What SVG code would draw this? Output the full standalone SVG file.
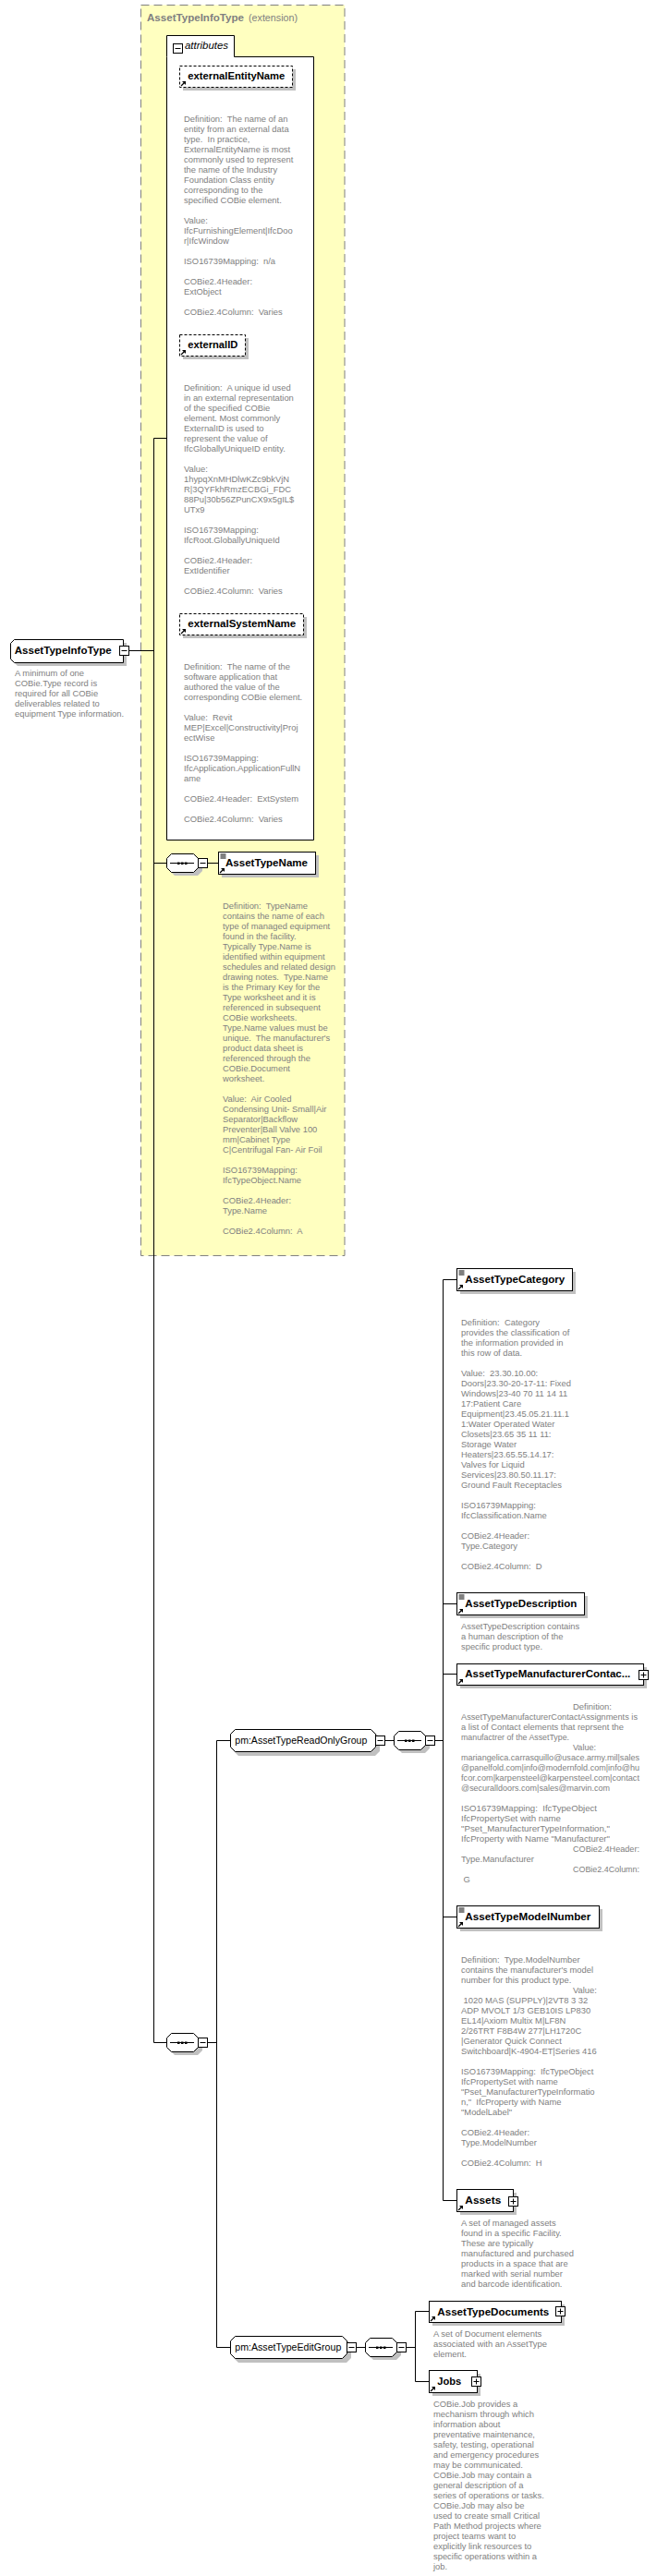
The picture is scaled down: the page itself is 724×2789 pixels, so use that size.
<svg xmlns="http://www.w3.org/2000/svg" xmlns:xlink="http://www.w3.org/1999/xlink" width="724" height="2789" viewBox="0 0 724 2789">
<style>
.d{font-family:"Liberation Sans",Arial,sans-serif;font-size:9.4px;fill:#808080;white-space:pre}
.n{font-family:"Liberation Sans",Arial,sans-serif;font-size:11.5px;font-weight:bold;fill:#000}
.g{font-family:"Liberation Sans",Arial,sans-serif;font-size:11px;fill:#000}
.box{fill:#fff;stroke:#000;stroke-width:1}
.sh{fill:#c0c0c0;stroke:none}
.ab{fill:#fff;stroke:#000;stroke-width:1;stroke-dasharray:3 2}
.ln{stroke:#000;stroke-width:1;fill:none}
</style>
<defs>
<g id="lnk"><path d="M1.5,-1.5 L5,-5" stroke="#000" stroke-width="1.3" fill="none"/><path d="M2.5,-6.5 L6.5,-6.5 L6.5,-2.5 Z" fill="#000"/></g>
<g id="sc"><path d="M2,2.5 H8 M2,4.5 H8 M2,6.5 H8" stroke="#000" stroke-width="1" fill="none"/></g>
<g id="minus"><rect x="0.5" y="0.5" width="10" height="10" class="box"/><path d="M2.5,5.5 H8.5" stroke="#000"/></g>
<g id="plus"><rect x="0.5" y="0.5" width="10" height="10" class="box"/><path d="M2.5,5.5 H8.5 M5.5,2.5 V8.5" stroke="#000"/></g>
<g id="seq">
<path d="M9,4 H34 L39,9 V19 L34,24 H9 L4,19 V9 Z" class="sh"/>
<path d="M5.5,0.5 H29.5 L34.5,5.5 V15.5 L29.5,20.5 H5.5 L0.5,15.5 V5.5 Z" class="box"/>
<path d="M4,10.5 H30" stroke="#000"/>
<rect x="12" y="9.5" width="2.5" height="2.5" fill="#000"/><rect x="16" y="9.5" width="2.5" height="2.5" fill="#000"/><rect x="20" y="9.5" width="2.5" height="2.5" fill="#000"/>
</g>
</defs>

<!-- complex type container -->
<g id="complexType">
<rect x="152.5" y="5.5" width="220.5" height="1354" fill="#ffffc0" stroke="#808080" stroke-dasharray="9 5"/>
<text x="159" y="23" style="font-family:'Liberation Sans',Arial,sans-serif;font-size:11.5px;fill:#808080"><tspan font-weight="bold" textLength="105" lengthAdjust="spacingAndGlyphs">AssetTypeInfoType</tspan></text>
<text x="269" y="23" style="font-family:'Liberation Sans',Arial,sans-serif;font-size:11.5px;fill:#808080" textLength="53" lengthAdjust="spacingAndGlyphs">(extension)</text>
</g>

<g id="attributes">
<path d="M180.5,61.5 V38.5 H253.5 V61.5 H339.5 V909.5 H180.5 Z" class="box"/>
<use xlink:href="#minus" x="187" y="47"/>
<text x="200" y="53" style="font-family:'Liberation Sans',Arial,sans-serif;font-size:11.5px;font-style:italic;fill:#000" textLength="47" lengthAdjust="spacingAndGlyphs">attributes</text>
</g>

<g id="externalEntityName">
<rect x="198" y="75" width="122" height="23" class="sh"/>
<rect x="194.5" y="71.5" width="122" height="23" class="ab"/>
<use xlink:href="#lnk" x="194.5" y="94.5"/>
<text class="n" x="203.3" y="86" textLength="105" lengthAdjust="spacingAndGlyphs">externalEntityName</text>
<text class="d">
<tspan x="199" y="132">Definition:  The name of an</tspan>
<tspan x="199" y="143">entity from an external data</tspan>
<tspan x="199" y="154">type.  In practice,</tspan>
<tspan x="199" y="165">ExternalEntityName is most</tspan>
<tspan x="199" y="176">commonly used to represent</tspan>
<tspan x="199" y="187">the name of the Industry</tspan>
<tspan x="199" y="198">Foundation Class entity</tspan>
<tspan x="199" y="209">corresponding to the</tspan>
<tspan x="199" y="220">specified COBie element.</tspan>
<tspan x="199" y="242">Value:</tspan>
<tspan x="199" y="253">IfcFurnishingElement|IfcDoo</tspan>
<tspan x="199" y="264">r|IfcWindow</tspan>
<tspan x="199" y="286">ISO16739Mapping:  n/a</tspan>
<tspan x="199" y="308">COBie2.4Header:</tspan>
<tspan x="199" y="319">ExtObject</tspan>
<tspan x="199" y="341">COBie2.4Column:  Varies</tspan>
</text>
</g>

<g id="externalID">
<rect x="198" y="366" width="71" height="23" class="sh"/>
<rect x="194.5" y="362.5" width="71" height="23" class="ab"/>
<use xlink:href="#lnk" x="194.5" y="385.5"/>
<text class="n" x="203.3" y="377" textLength="54" lengthAdjust="spacingAndGlyphs">externalID</text>
<text class="d">
<tspan x="199" y="423">Definition:  A unique id used</tspan>
<tspan x="199" y="434">in an external representation</tspan>
<tspan x="199" y="445">of the specified COBie</tspan>
<tspan x="199" y="456">element. Most commonly</tspan>
<tspan x="199" y="467">ExternalID is used to</tspan>
<tspan x="199" y="478">represent the value of</tspan>
<tspan x="199" y="489">IfcGloballyUniqueID entity.</tspan>
<tspan x="199" y="511">Value:</tspan>
<tspan x="199" y="522">1hypqXnMHDlwKZc9bkVjN</tspan>
<tspan x="199" y="533">R|3QYFkhRmzECBGi_FDC</tspan>
<tspan x="199" y="544">88Pu|30b56ZPunCX9x5gIL$</tspan>
<tspan x="199" y="555">UTx9</tspan>
<tspan x="199" y="577">ISO16739Mapping:</tspan>
<tspan x="199" y="588">IfcRoot.GloballyUniqueId</tspan>
<tspan x="199" y="610">COBie2.4Header:</tspan>
<tspan x="199" y="621">ExtIdentifier</tspan>
<tspan x="199" y="643">COBie2.4Column:  Varies</tspan>
</text>
</g>

<g id="externalSystemName">
<rect x="198" y="668" width="134" height="23" class="sh"/>
<rect x="194.5" y="664.5" width="134" height="23" class="ab"/>
<use xlink:href="#lnk" x="194.5" y="687.5"/>
<text class="n" x="203.3" y="679" textLength="117" lengthAdjust="spacingAndGlyphs">externalSystemName</text>
<text class="d">
<tspan x="199" y="725">Definition:  The name of the</tspan>
<tspan x="199" y="736">software application that</tspan>
<tspan x="199" y="747">authored the value of the</tspan>
<tspan x="199" y="758">corresponding COBie element.</tspan>
<tspan x="199" y="780">Value:  Revit</tspan>
<tspan x="199" y="791">MEP|Excel|Constructivity|Proj</tspan>
<tspan x="199" y="802">ectWise</tspan>
<tspan x="199" y="824">ISO16739Mapping:</tspan>
<tspan x="199" y="835">IfcApplication.ApplicationFullN</tspan>
<tspan x="199" y="846">ame</tspan>
<tspan x="199" y="868">COBie2.4Header:  ExtSystem</tspan>
<tspan x="199" y="890">COBie2.4Column:  Varies</tspan>
</text>
</g>

<!-- connectors -->
<g id="connectors" class="ln">
<path d="M139,704.5 H166.5"/>
<path d="M166.5,474.5 V2211.5"/>
<path d="M166.5,474.5 H180.5"/>
<path d="M166.5,934.5 H180"/>
<path d="M225,934.5 H236.5"/>
<path d="M166.5,2211.5 H180"/>
<path d="M225,2211.5 H234.5"/>
<path d="M234.5,1884.5 V2541.5"/>
<path d="M234.5,1884.5 H249.5"/>
<path d="M234.5,2541.5 H249.5"/>
<path d="M417,1884.5 H426"/>
<path d="M471,1884.5 H479.5"/>
<path d="M479.5,1385.5 V2382.5"/>
<path d="M479.5,1385.5 H494.5"/>
<path d="M479.5,1736.5 H494.5"/>
<path d="M479.5,1812.5 H494.5"/>
<path d="M479.5,2075.5 H494.5"/>
<path d="M479.5,2382.5 H494.5"/>
<path d="M386,2541.5 H395"/>
<path d="M440,2541.5 H449.5"/>
<path d="M449.5,2502.5 V2578.5"/>
<path d="M449.5,2502.5 H464.5"/>
<path d="M449.5,2578.5 H464.5"/>
</g>

<g id="AssetTypeInfoType">
<path d="M19,696 H137 V721 H19 L15,717 V700 Z" class="sh"/>
<path d="M15.5,692.5 H133.5 V717.5 H15.5 L11.5,713.5 V696.5 Z" class="box"/>
<use xlink:href="#minus" x="129" y="699"/>
<text class="n" x="15.7" y="708" textLength="105" lengthAdjust="spacingAndGlyphs">AssetTypeInfoType</text>
<text class="d">
<tspan x="16" y="732">A minimum of one</tspan>
<tspan x="16" y="743">COBie.Type record is</tspan>
<tspan x="16" y="754">required for all COBie</tspan>
<tspan x="16" y="765">deliverables related to</tspan>
<tspan x="16" y="776">equipment Type information.</tspan>
</text>
</g>

<g id="seqName">
<use xlink:href="#seq" x="180" y="924"/>
<use xlink:href="#minus" x="214" y="929"/>
</g>

<g id="AssetTypeName">
<rect x="240" y="926" width="105" height="24" class="sh"/>
<rect x="236.5" y="922.5" width="105" height="24" class="box"/>
<use xlink:href="#sc" x="236.5" y="922.5"/>
<use xlink:href="#lnk" x="236.5" y="946.5"/>
<text class="n" x="244" y="938" textLength="89" lengthAdjust="spacingAndGlyphs">AssetTypeName</text>
<text class="d">
<tspan x="241" y="984">Definition:  TypeName</tspan>
<tspan x="241" y="995">contains the name of each</tspan>
<tspan x="241" y="1006">type of managed equipment</tspan>
<tspan x="241" y="1017">found in the facility.</tspan>
<tspan x="241" y="1028">Typically Type.Name is</tspan>
<tspan x="241" y="1039">identified within equipment</tspan>
<tspan x="241" y="1050">schedules and related design</tspan>
<tspan x="241" y="1061">drawing notes.  Type.Name</tspan>
<tspan x="241" y="1072">is the Primary Key for the</tspan>
<tspan x="241" y="1083">Type worksheet and it is</tspan>
<tspan x="241" y="1094">referenced in subsequent</tspan>
<tspan x="241" y="1105">COBie worksheets.</tspan>
<tspan x="241" y="1116">Type.Name values must be</tspan>
<tspan x="241" y="1127">unique.  The manufacturer's</tspan>
<tspan x="241" y="1138">product data sheet is</tspan>
<tspan x="241" y="1149">referenced through the</tspan>
<tspan x="241" y="1160">COBie.Document</tspan>
<tspan x="241" y="1171">worksheet.</tspan>
<tspan x="241" y="1193">Value:  Air Cooled</tspan>
<tspan x="241" y="1204">Condensing Unit- Small|Air</tspan>
<tspan x="241" y="1215">Separator|Backflow</tspan>
<tspan x="241" y="1226">Preventer|Ball Valve 100</tspan>
<tspan x="241" y="1237">mm|Cabinet Type</tspan>
<tspan x="241" y="1248">C|Centrifugal Fan- Air Foil</tspan>
<tspan x="241" y="1270">ISO16739Mapping:</tspan>
<tspan x="241" y="1281">IfcTypeObject.Name</tspan>
<tspan x="241" y="1303">COBie2.4Header:</tspan>
<tspan x="241" y="1314">Type.Name</tspan>
<tspan x="241" y="1336">COBie2.4Column:  A</tspan>
</text>
</g>

<g id="seqMain">
<use xlink:href="#seq" x="180" y="2201"/>
<use xlink:href="#minus" x="214" y="2206"/>
</g>

<g id="AssetTypeReadOnlyGroup">
<path d="M258,1876 H406 L411,1881 V1896 L406,1901 H258 L253,1896 V1881 Z" class="sh"/>
<path d="M254.5,1872.5 H401.5 L406.5,1877.5 V1891.5 L401.5,1896.5 H254.5 L249.5,1891.5 V1877.5 Z" class="box"/>
<use xlink:href="#minus" x="406" y="1879"/>
<text class="g" x="254.3" y="1888" textLength="143" lengthAdjust="spacingAndGlyphs">pm:AssetTypeReadOnlyGroup</text>
</g>

<g id="seqReadOnly">
<use xlink:href="#seq" x="426" y="1874"/>
<use xlink:href="#minus" x="460" y="1879"/>
</g>

<g id="AssetTypeCategory">
<rect x="498" y="1377" width="125" height="24" class="sh"/>
<rect x="494.5" y="1373.5" width="125" height="24" class="box"/>
<use xlink:href="#sc" x="494.5" y="1373.5"/>
<use xlink:href="#lnk" x="494.5" y="1397.5"/>
<text class="n" x="503.3" y="1389" textLength="108" lengthAdjust="spacingAndGlyphs">AssetTypeCategory</text>
<text class="d">
<tspan x="499" y="1435">Definition:  Category</tspan>
<tspan x="499" y="1446">provides the classification of</tspan>
<tspan x="499" y="1457">the information provided in</tspan>
<tspan x="499" y="1468">this row of data.</tspan>
<tspan x="499" y="1490">Value:  23.30.10.00:</tspan>
<tspan x="499" y="1501">Doors|23.30-20-17-11: Fixed</tspan>
<tspan x="499" y="1512">Windows|23-40 70 11 14 11</tspan>
<tspan x="499" y="1523">17:Patient Care</tspan>
<tspan x="499" y="1534">Equipment|23.45.05.21.11.1</tspan>
<tspan x="499" y="1545">1:Water Operated Water</tspan>
<tspan x="499" y="1556">Closets|23.65 35 11 11:</tspan>
<tspan x="499" y="1567">Storage Water</tspan>
<tspan x="499" y="1578">Heaters|23.65.55.14.17:</tspan>
<tspan x="499" y="1589">Valves for Liquid</tspan>
<tspan x="499" y="1600">Services|23.80.50.11.17:</tspan>
<tspan x="499" y="1611">Ground Fault Receptacles</tspan>
<tspan x="499" y="1633">ISO16739Mapping:</tspan>
<tspan x="499" y="1644">IfcClassification.Name</tspan>
<tspan x="499" y="1666">COBie2.4Header:</tspan>
<tspan x="499" y="1677">Type.Category</tspan>
<tspan x="499" y="1699">COBie2.4Column:  D</tspan>
</text>
</g>

<g id="AssetTypeDescription">
<rect x="498" y="1728" width="138" height="24" class="sh"/>
<rect x="494.5" y="1724.5" width="138" height="24" class="box"/>
<use xlink:href="#sc" x="494.5" y="1724.5"/>
<use xlink:href="#lnk" x="494.5" y="1748.5"/>
<text class="n" x="503.3" y="1740" textLength="121" lengthAdjust="spacingAndGlyphs">AssetTypeDescription</text>
<text class="d">
<tspan x="499" y="1764">AssetTypeDescription contains</tspan>
<tspan x="499" y="1775">a human description of the</tspan>
<tspan x="499" y="1786">specific product type.</tspan>
</text>
</g>

<g id="AssetTypeManufacturerContactAssignments">
<rect x="498" y="1805" width="202" height="23" class="sh"/>
<rect x="494.5" y="1801.5" width="202" height="23" class="box"/>
<use xlink:href="#plus" x="691" y="1808"/>
<use xlink:href="#lnk" x="494.5" y="1824.5"/>
<text class="n" x="503.3" y="1816" textLength="179" lengthAdjust="spacingAndGlyphs">AssetTypeManufacturerContac...</text>
<text class="d">
<tspan x="620" y="1851" textLength="42" lengthAdjust="spacingAndGlyphs">Definition:</tspan>
<tspan x="499" y="1862" textLength="191" lengthAdjust="spacingAndGlyphs">AssetTypeManufacturerContactAssignments is</tspan>
<tspan x="499" y="1873" textLength="176" lengthAdjust="spacingAndGlyphs">a list of Contact elements that reprsent the</tspan>
<tspan x="499" y="1884" textLength="117" lengthAdjust="spacingAndGlyphs">manufactrer of the AssetType.</tspan>
<tspan x="620" y="1895" textLength="25" lengthAdjust="spacingAndGlyphs">Value:</tspan>
<tspan x="499" y="1906" textLength="193" lengthAdjust="spacingAndGlyphs">mariangelica.carrasquillo@usace.army.mil|sales</tspan>
<tspan x="499" y="1917" textLength="193" lengthAdjust="spacingAndGlyphs">@panelfold.com|info@modernfold.com|info@hu</tspan>
<tspan x="499" y="1928" textLength="193" lengthAdjust="spacingAndGlyphs">fcor.com|karpensteel@karpensteel.com|contact</tspan>
<tspan x="499" y="1939" textLength="161" lengthAdjust="spacingAndGlyphs">@securalldoors.com|sales@marvin.com</tspan>
<tspan x="499" y="1961" textLength="147" lengthAdjust="spacingAndGlyphs">ISO16739Mapping:  IfcTypeObject</tspan>
<tspan x="499" y="1972" textLength="108" lengthAdjust="spacingAndGlyphs">IfcPropertySet with name</tspan>
<tspan x="499" y="1983" textLength="161" lengthAdjust="spacingAndGlyphs">"Pset_ManufacturerTypeInformation,"</tspan>
<tspan x="499" y="1994" textLength="161" lengthAdjust="spacingAndGlyphs">IfcProperty with Name "Manufacturer"</tspan>
<tspan x="620" y="2005" textLength="72" lengthAdjust="spacingAndGlyphs">COBie2.4Header:</tspan>
<tspan x="499" y="2016" textLength="79" lengthAdjust="spacingAndGlyphs">Type.Manufacturer</tspan>
<tspan x="620" y="2027" textLength="72" lengthAdjust="spacingAndGlyphs">COBie2.4Column:</tspan>
<tspan x="499" y="2038"> G</tspan>
</text>
</g>

<g id="AssetTypeModelNumber">
<rect x="498" y="2067" width="154" height="24" class="sh"/>
<rect x="494.5" y="2063.5" width="154" height="24" class="box"/>
<use xlink:href="#sc" x="494.5" y="2063.5"/>
<use xlink:href="#lnk" x="494.5" y="2087.5"/>
<text class="n" x="503.3" y="2079" textLength="136" lengthAdjust="spacingAndGlyphs">AssetTypeModelNumber</text>
<text class="d">
<tspan x="499" y="2125">Definition:  Type.ModelNumber</tspan>
<tspan x="499" y="2136">contains the manufacturer's model</tspan>
<tspan x="499" y="2147">number for this product type.</tspan>
<tspan x="620" y="2158">Value:</tspan>
<tspan x="499" y="2169"> 1020 MAS (SUPPLY)|2VT8 3 32</tspan>
<tspan x="499" y="2180">ADP MVOLT 1/3 GEB10IS LP830</tspan>
<tspan x="499" y="2191">EL14|Axiom Multix M|LF8N</tspan>
<tspan x="499" y="2202">2/26TRT F8B4W 277|LH1720C</tspan>
<tspan x="499" y="2213">|Generator Quick Connect</tspan>
<tspan x="499" y="2224">Switchboard|K-4904-ET|Series 416</tspan>
<tspan x="499" y="2246">ISO16739Mapping:  IfcTypeObject</tspan>
<tspan x="499" y="2257">IfcPropertySet with name</tspan>
<tspan x="499" y="2268">"Pset_ManufacturerTypeInformatio</tspan>
<tspan x="499" y="2279">n,"  IfcProperty with Name</tspan>
<tspan x="499" y="2290">"ModelLabel"</tspan>
<tspan x="499" y="2312">COBie2.4Header:</tspan>
<tspan x="499" y="2323">Type.ModelNumber</tspan>
<tspan x="499" y="2345">COBie2.4Column:  H</tspan>
</text>
</g>

<g id="Assets">
<rect x="498" y="2374" width="61" height="24" class="sh"/>
<rect x="494.5" y="2370.5" width="61" height="24" class="box"/>
<use xlink:href="#plus" x="550" y="2378"/>
<use xlink:href="#lnk" x="494.5" y="2394.5"/>
<text class="n" x="503.3" y="2386" textLength="39" lengthAdjust="spacingAndGlyphs">Assets</text>
<text class="d">
<tspan x="499" y="2410">A set of managed assets</tspan>
<tspan x="499" y="2421">found in a specific Facility.</tspan>
<tspan x="499" y="2432">These are typically</tspan>
<tspan x="499" y="2443">manufactured and purchased</tspan>
<tspan x="499" y="2454">products in a space that are</tspan>
<tspan x="499" y="2465">marked with serial number</tspan>
<tspan x="499" y="2476">and barcode identification.</tspan>
</text>
</g>

<g id="AssetTypeEditGroup">
<path d="M258,2533 H375 L380,2538 V2553 L375,2558 H258 L253,2553 V2538 Z" class="sh"/>
<path d="M254.5,2529.5 H370.5 L375.5,2534.5 V2548.5 L370.5,2553.5 H254.5 L249.5,2548.5 V2534.5 Z" class="box"/>
<use xlink:href="#minus" x="375" y="2536"/>
<text class="g" x="254.3" y="2545" textLength="115" lengthAdjust="spacingAndGlyphs">pm:AssetTypeEditGroup</text>
</g>

<g id="seqEdit">
<use xlink:href="#seq" x="395" y="2531"/>
<use xlink:href="#minus" x="429" y="2536"/>
</g>

<g id="AssetTypeDocuments">
<rect x="468" y="2495" width="143" height="23" class="sh"/>
<rect x="464.5" y="2491.5" width="143" height="23" class="box"/>
<use xlink:href="#plus" x="601" y="2497"/>
<use xlink:href="#lnk" x="464.5" y="2514.5"/>
<text class="n" x="473.3" y="2507" textLength="121" lengthAdjust="spacingAndGlyphs">AssetTypeDocuments</text>
<text class="d">
<tspan x="469" y="2530">A set of Document elements</tspan>
<tspan x="469" y="2541">associated with an AssetType</tspan>
<tspan x="469" y="2552">element.</tspan>
</text>
</g>

<g id="Jobs">
<rect x="468" y="2570" width="52" height="24" class="sh"/>
<rect x="464.5" y="2566.5" width="52" height="24" class="box"/>
<use xlink:href="#plus" x="510" y="2573"/>
<use xlink:href="#lnk" x="464.5" y="2590.5"/>
<text class="n" x="473.3" y="2582" textLength="26" lengthAdjust="spacingAndGlyphs">Jobs</text>
<text class="d">
<tspan x="469" y="2606">COBie.Job provides a</tspan>
<tspan x="469" y="2617">mechanism through which</tspan>
<tspan x="469" y="2628">information about</tspan>
<tspan x="469" y="2639">preventative maintenance,</tspan>
<tspan x="469" y="2650">safety, testing, operational</tspan>
<tspan x="469" y="2661">and emergency procedures</tspan>
<tspan x="469" y="2672">may be communicated.</tspan>
<tspan x="469" y="2683">COBie.Job may contain a</tspan>
<tspan x="469" y="2694">general description of a</tspan>
<tspan x="469" y="2705">series of operations or tasks.</tspan>
<tspan x="469" y="2716">COBie.Job may also be</tspan>
<tspan x="469" y="2727">used to create small Critical</tspan>
<tspan x="469" y="2738">Path Method projects where</tspan>
<tspan x="469" y="2749">project teams want to</tspan>
<tspan x="469" y="2760">explicitly link resources to</tspan>
<tspan x="469" y="2771">specific operations within a</tspan>
<tspan x="469" y="2782">job.</tspan>
</text>
</g>
</svg>
